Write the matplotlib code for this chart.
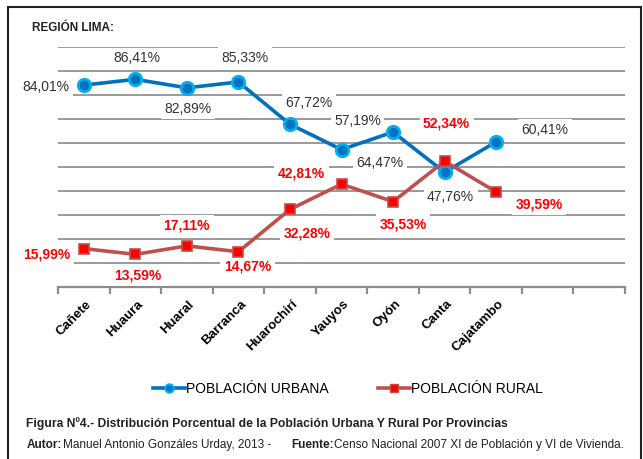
import matplotlib
matplotlib.use("Agg")
import matplotlib.pyplot as plt
import matplotlib.transforms as mtransforms
from matplotlib.lines import Line2D
from matplotlib.patches import Rectangle

plt.rcParams["font.family"] = ["Liberation Sans", "DejaVu Sans"]

provincias = ["Cañete", "Huaura", "Huaral", "Barranca", "Huarochirí",
              "Yauyos", "Oyón", "Canta", "Cajatambo"]
urbana = [84.01, 86.41, 82.89, 85.33, 67.72, 57.19, 64.47, 47.76, 60.41]
rural = [15.99, 13.59, 17.11, 14.67, 32.28, 42.81, 35.53, 52.34, 39.59]
n_slots = 11  # the axis leaves room for two empty categories

# label offsets (pixels) from each point
off_urb = [(-38, -2), (2, 21), (1, -21), (7, 24), (19, 21),
           (16, 29), (-13, -31), (6, -25), (49, 12)]
off_rur = [(-37, -6), (2, -21), (0, 20), (9, -15), (17, -24),
           (-40, 11), (10, -23), (2, 38), (43, -13)]

W, H = 643, 459
fig = plt.figure(figsize=(W / 100, H / 100), dpi=100)
ax = fig.add_axes([58 / W, 1 - 287 / H, (625 - 58) / W, (287 - 46.7) / H])

x = list(range(len(provincias)))
ax.set_xlim(-0.5, n_slots - 0.5)
ax.set_ylim(0, 100)

for v in range(10, 101, 10):
    ax.axhline(v, color="#9a9a9a", lw=1.4, zorder=1)

c_urb, c_urb_edge = "#0070C0", "#00B0F0"
c_rur, c_rur_face = "#C0504D", "#FF0000"
ax.plot(x, urbana, color=c_urb, lw=2.6, marker="o", ms=9,
        mfc=c_urb, mec=c_urb_edge, mew=2.0, zorder=5)
ax.plot(x, rural, color=c_rur, lw=2.6, marker="s", ms=7,
        mfc=c_rur_face, mec=c_rur, mew=1.2, zorder=5)

box = dict(facecolor="white", edgecolor="none", pad=2.5)
for xi, v, (dx, dy) in zip(x, urbana, off_urb):
    ax.annotate(f"{v:.2f}%".replace(".", ","), (xi, v), xytext=(dx, dy),
                textcoords="offset pixels", ha="center", va="center",
                fontsize=10, color="#333333", bbox=box, zorder=3)
for xi, v, (dx, dy) in zip(x, rural, off_rur):
    ax.annotate(f"{v:.2f}%".replace(".", ","), (xi, v), xytext=(dx, dy),
                textcoords="offset pixels", ha="center", va="center",
                fontsize=10, fontweight="bold", color="#FF0000",
                bbox=box, zorder=3)

# axis styling
for s in ["left", "right", "top"]:
    ax.spines[s].set_visible(False)
ax.spines["bottom"].set_color("#8c8c8c")
ax.spines["bottom"].set_linewidth(1.6)
ax.set_yticks([])
ax.set_xticks([i - 0.5 for i in range(n_slots + 1)])
ax.set_xticklabels([])
ax.tick_params(axis="x", which="major", length=5, width=1.6, color="#8c8c8c")
ax.set_xticks(x, minor=True)
ax.set_xticklabels(provincias, minor=True, rotation=45, ha="right",
                   fontsize=9.5, fontweight="bold")
ax.tick_params(axis="x", which="minor", length=0, pad=8)
shift = mtransforms.ScaledTranslation(10 / 100, 0, fig.dpi_scale_trans)
for lab in ax.get_xticklabels(minor=True):
    lab.set_transform(lab.get_transform() + shift)

fig.text(32 / W, 1 - 28 / H, "REGIÓN LIMA:", fontsize=8.5,
         fontweight="bold", va="center", ha="left", color="#222222")

handles = [
    Line2D([], [], color=c_urb, lw=2.6, marker="o", ms=6, mfc=c_urb,
           mec=c_urb_edge, mew=1.5),
    Line2D([], [], color=c_rur, lw=2.6, marker="s", ms=6, mfc=c_rur_face,
           mec=c_rur, mew=1.0),
]
fig.legend(handles, ["POBLACIÓN URBANA", "POBLACIÓN RURAL"], loc="center",
           bbox_to_anchor=(348 / W, 1 - 389 / H), ncol=2, frameon=False,
           fontsize=10, handlelength=2.3, handletextpad=0.1,
           columnspacing=3.5)

narrow = ["Liberation Sans Narrow", "Liberation Sans", "DejaVu Sans"]
fig.text(26 / W, 1 - 424 / H,
         "Figura Nº4.- Distribución Porcentual de la Población Urbana Y Rural Por Provincias",
         fontsize=8.7, fontweight="bold", family=narrow, va="center",
         color="#222222")
fig.text(27 / W, 1 - 445 / H, "Autor:", fontsize=8.5, fontweight="bold",
         family=narrow, va="center", color="#222222")
fig.text(63 / W, 1 - 445 / H, "Manuel Antonio Gonzáles Urday, 2013 -",
         fontsize=8.5, family=narrow, va="center", color="#222222")
fig.text(291 / W, 1 - 445 / H, "Fuente:", fontsize=8.5, fontweight="bold",
         family=narrow, va="center", color="#222222")
fig.text(334 / W, 1 - 445 / H,
         "Censo Nacional 2007 XI de Población y VI de Vivienda.",
         fontsize=8.5, family=narrow, va="center", color="#222222")

fig.patches.append(Rectangle((8 / W, -0.05), (641 - 8) / W, 1.05 - 7 / H,
                             transform=fig.transFigure, fill=False,
                             edgecolor="#222222", lw=1.5))

fig.savefig("out.png", dpi=100)
